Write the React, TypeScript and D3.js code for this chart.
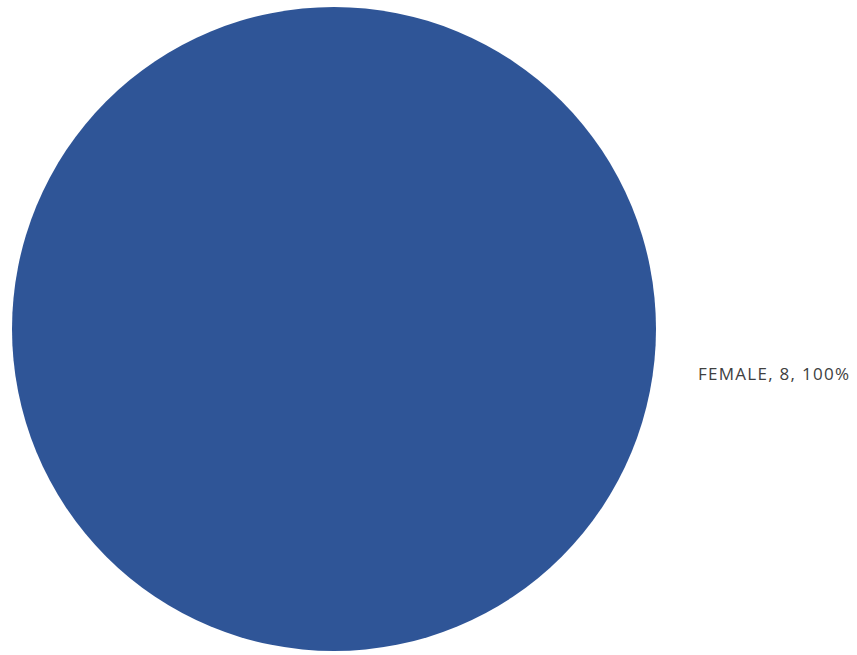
import React from "react";
import * as d3 from "d3";

const categories = ["FEMALE"];
const values = [8];
const colors = ["#2F5597"];

export default function App() {
  const width = 857;
  const height = 655;
  const cx = 334;
  const cy = 329;
  const r = 322;
  const total = d3.sum(values);
  const pie = d3.pie<number>().sort(null).value((d) => d);
  const arcs = pie(values);
  const arc = d3.arc<d3.PieArcDatum<number>>().innerRadius(0).outerRadius(r);
  return (
    <svg width={width} height={height} style={{ position: "absolute", left: 0, top: 0 }}>
      <g transform={`translate(${cx},${cy})`}>
        {arcs.map((a, i) => (
          <path key={i} d={arc(a) as string} fill={colors[i]} />
        ))}
      </g>
      {arcs.map((a, i) => (
        <text
          key={i}
          x={698}
          y={380}
          fontFamily="'Open Sans', sans-serif"
          fontSize={17}
          fill="#404040"
          textLength={151}
          lengthAdjust="spacing"
        >
          {`${categories[i]}, ${values[i]}, ${d3.format(".0%")(values[i] / total)}`}
        </text>
      ))}
    </svg>
  );
}
